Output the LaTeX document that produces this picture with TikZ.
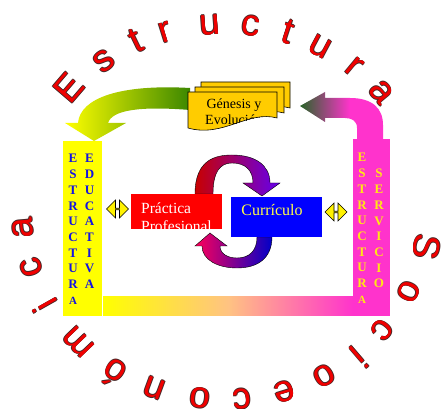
\documentclass[tikz,border=0pt]{standalone}
\usepackage{fontspec}
\setmainfont{Liberation Serif}
\newfontfamily\ringfont{Liberation Sans}
\usepackage{tikz}
\usetikzlibrary{shapes.arrows}
\definecolor{ringred}{RGB}{240,0,0}
\definecolor{ringedge}{RGB}{70,40,40}
\definecolor{barblue}{RGB}{20,20,225}
\definecolor{baryel}{RGB}{255,255,0}
\definecolor{barmag}{RGB}{255,51,204}
\definecolor{peach}{RGB}{255,195,130}
\definecolor{servtext}{RGB}{255,232,20}
\definecolor{docgold}{RGB}{255,204,0}
\definecolor{arrgreen}{RGB}{60,135,0}
\definecolor{arrdkgreen}{RGB}{40,100,40}
\definecolor{practred}{RGB}{255,0,0}
\definecolor{curblue}{RGB}{0,0,255}
\definecolor{curtext}{RGB}{255,255,70}
\definecolor{loopred}{RGB}{200,0,0}
\definecolor{looppurple}{RGB}{100,0,240}
\definecolor{looppink}{RGB}{255,0,90}
\definecolor{loopblue}{RGB}{0,0,200}
\pgfdeclarehorizontalshading{greenmag}{100bp}{color(0bp)=(arrdkgreen); color(25bp)=(arrdkgreen); color(55bp)=(barmag); color(100bp)=(barmag)}
\pgfdeclarehorizontalshading{yelmag}{100bp}{color(0bp)=(baryel); color(25bp)=(baryel); color(50bp)=(peach); color(75bp)=(barmag); color(100bp)=(barmag)}

\begin{document}
\begin{tikzpicture}[x=1pt, y=1pt,
  bar/.style={rectangle, fill=#1, inner sep=0pt},
  col/.style={font=\bfseries\fontsize{13}{15.7}\selectfont, text=#1, align=center, inner sep=0pt, anchor=base},
  box/.style={rectangle, fill=#1, inner sep=0pt},
  boxtxt/.style={font=\fontsize{15.5}{18}\selectfont, text=#1, align=left, inner sep=0pt, anchor=base west},
  doc/.style={fill=docgold, draw=black, line width=0.6pt},
  loop/.style={draw=black, line width=0.4pt, left color=#1},
  dbl/.style={double arrow, fill=yellow, draw=black, line width=0.6pt, inner sep=0pt,
              minimum width=18pt, minimum height=22pt, double arrow head extend=3.5pt},
  ring/.style={font=\ringfont\fontsize{37}{37}\selectfont, text=#1, anchor=base, inner sep=0pt}
]
\useasboundingbox (0,0) rectangle (447,409);

\node[bar=baryel, minimum width=39pt, minimum height=175pt] (eduBar) at (82.5,180.5) {};
\node[bar=barmag, minimum width=37pt, minimum height=177pt] (servBar) at (371.5,181.5) {};
\node[bar=baryel, shading=yelmag, minimum width=250pt, minimum height=19pt] (linkBar) at (228,102.5) {};

\shade[left color=baryel, right color=arrgreen] (190,321) .. controls (120,325) and (80,311) .. (78,286)
  -- (65,286) -- (94,268) -- (126,286) -- (108,286) .. controls (112,299) and (140,303) .. (190,299) -- cycle;
\shade[shading=greenmag] (357,270) -- (357,281) .. controls (357,288) and (352,291) .. (345,291) -- (325,291)
  -- (325,287) -- (300,303) -- (325,317) -- (325,311) -- (350,311) .. controls (372,311) and (383,301) .. (383,284)
  -- (383,270) -- cycle;

\foreach \dx/\dy in {13/10,7/5,0/0}
  \draw[doc, shift={(\dx,\dy)}] (188,317) -- (277,317) -- (277,291) .. controls (248,299) and (223,271) .. (188,281) -- cycle;
\begin{scope}
  \clip (188,317) -- (277,317) -- (277,291) .. controls (248,299) and (223,271) .. (188,281) -- cycle;
  \node[font=\fontsize{14}{16}\selectfont, align=center, anchor=base, inner sep=0pt] (genesis) at (234,284) {Génesis y\\Evolución};
\end{scope}

\shadedraw[loop=loopred, right color=looppurple] (195,215) .. controls (195,249) and (215,254) .. (232,254)
  .. controls (255,254) and (270,244) .. (270,226) -- (280,226) -- (262,213) -- (243,226) -- (253,226)
  .. controls (253,239) and (245,246) .. (232,246) .. controls (220,246) and (213,237) .. (213,215) -- cycle;
\shadedraw[loop=looppink, right color=loopblue] (272,172) .. controls (272,151) and (258,141) .. (237,141)
  .. controls (218,141) and (202,149) .. (202,163) -- (195,163) -- (210,176) -- (227,163) -- (220,163)
  .. controls (220,155) and (228,151) .. (237,151) .. controls (250,151) and (257,159) .. (257,172) -- cycle;

\node[box=practred, minimum width=91pt, minimum height=35pt] (prac) at (176.5,197.5) {};
\node[boxtxt=white] (pracTxt) at (141,177) {Práctica\\Profesional};
\node[box=curblue, minimum width=91pt, minimum height=40pt] (curr) at (276.5,192) {};
\node[font=\fontsize{16}{16}\selectfont, text=curtext, anchor=base, inner sep=0pt] (currTxt) at (272,193) {Currículo};

\node[dbl] (leftLink) at (117.5,200) {};
\node[dbl] (rightLink) at (336,197) {};

\node[col=barblue] (estA) at (73,104.7) {E\\S\\T\\R\\U\\C\\T\\U\\R\\{\fontsize{11}{11}\selectfont A}};
\node[col=barblue] (edu) at (89.5,120.4) {E\\D\\U\\C\\A\\T\\I\\V\\A};
\node[col=servtext] (estB) at (362,105.7) {E\\S\\T\\R\\U\\C\\T\\U\\R\\{\fontsize{11}{11}\selectfont A}};
\node[col=servtext] (serv) at (379,121.1) {S\\E\\R\\V\\I\\C\\I\\O};

\foreach \ch/\t [count=\k] in {E/139.4,s/126.6,t/115.8,r/107.2,u/94.3,c/82.8,t/72.0,u/61.9,r/50.4,a/39.6,
    S/-10.6,o/-25.1,c/-39.0,i/-49.4,o/-60.7,e/-73.0,c/-85.1,o/-97.1,n/-110.3,ó/-122.5,m/-136.3,i/-150.6,c/-162.8,a/-175.2} {
  \foreach \ox/\oy [count=\j] in {0.7/0,-0.7/0,0/0.7,0/-0.7}
    \node[ring=ringedge, rotate=\t-90] (h\k\j) at ({225+193*cos(\t)+\ox},{197+178*sin(\t)+\oy}) {\ch};
  \node[ring=ringred, rotate=\t-90] (c\k) at ({225+193*cos(\t)},{197+178*sin(\t)}) {\ch};
}

\end{tikzpicture}
\end{document}
